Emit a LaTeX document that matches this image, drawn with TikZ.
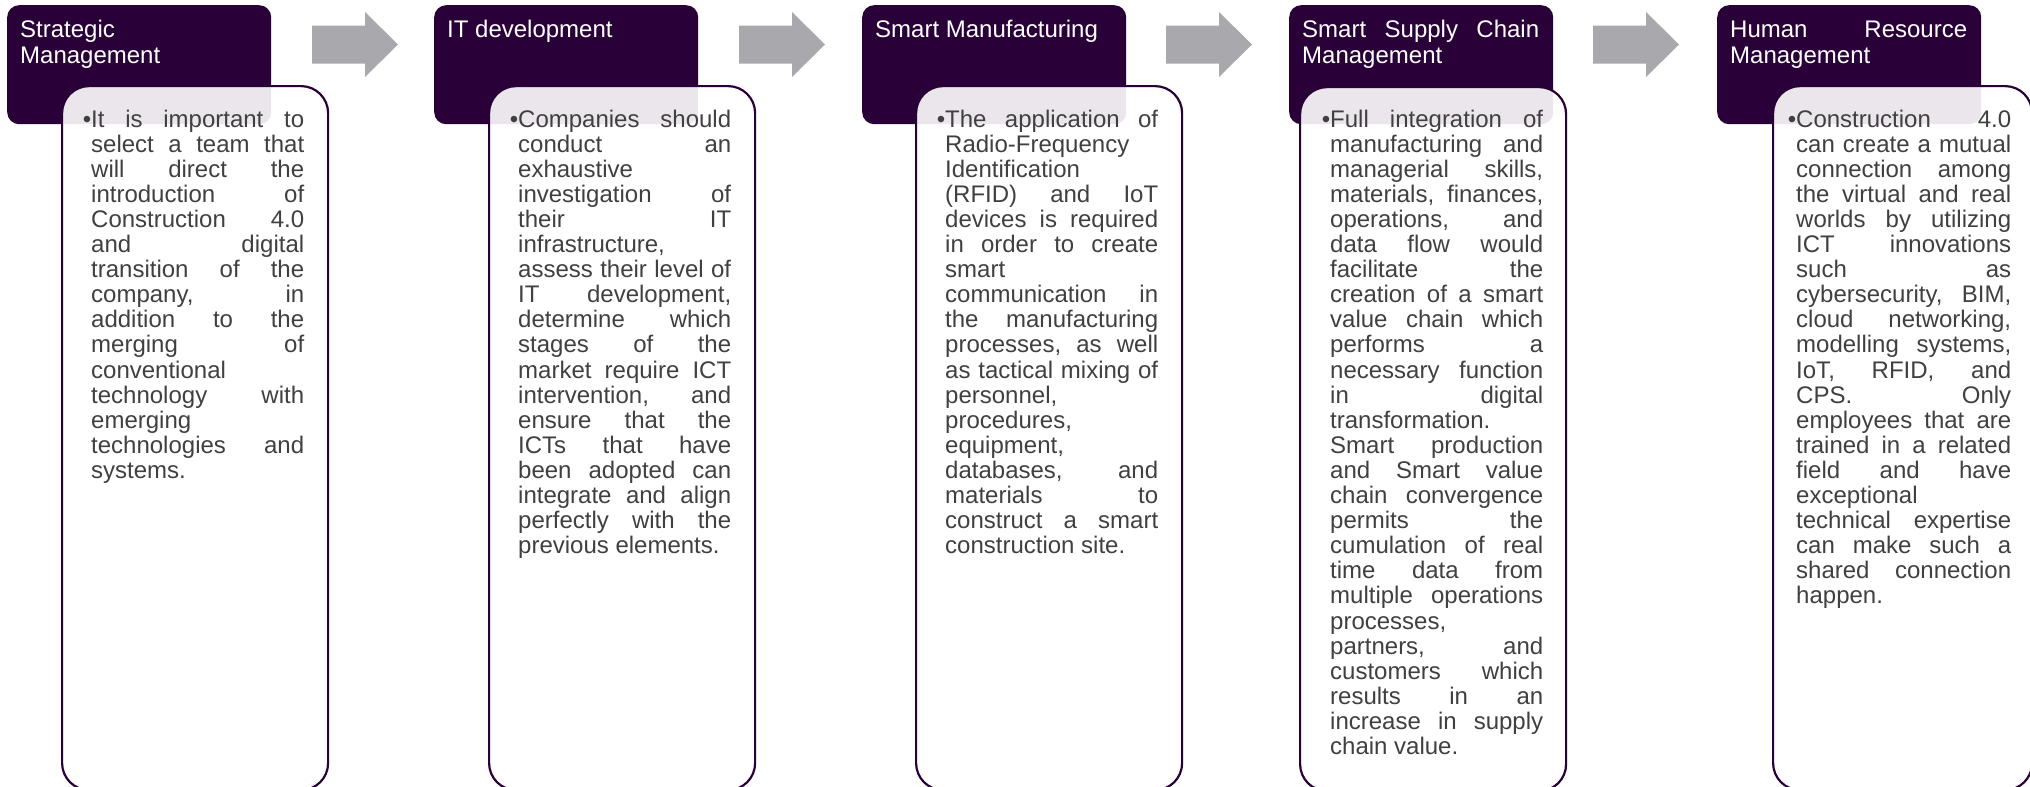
\documentclass[tikz,border=0pt]{standalone}
\usepackage{fontspec}
\setmainfont{Liberation Sans}
\definecolor{hdpurple}{HTML}{2A0038}
\definecolor{arrowgray}{HTML}{A9A8AD}
\definecolor{txtgray}{HTML}{404040}
% one justified line of a card or header: the word gaps stretch to fill the line
\newcommand\jl[1]{\leavevmode\hbox to \hsize{\spaceskip=0.278em plus 1fil\relax #1}\\}
% bullet hanging left of the first line
\newcommand\cardbullet{\leavevmode\llap{\textbullet}}
\frenchspacing
\begin{document}
\begin{tikzpicture}[x=1pt,y=-1pt,
  head/.style={fill=hdpurple, rounded corners=12pt, minimum width=264pt,
    minimum height=119pt, anchor=north west, inner sep=0pt},
  headtext/.style={text=white, anchor=base west, inner sep=0pt,
    text width=237pt, align=flush left, font=\fontsize{24}{26}\selectfont},
  card/.style={draw=hdpurple, line width=2.2pt, fill=white, fill opacity=0.9,
    rounded corners=27pt, minimum width=266pt, minimum height=704pt,
    anchor=north west, inner sep=0pt},
  cardtext/.style={text=txtgray, anchor=base west, inner sep=0pt,
    text width=213pt, align=flush left, font=\fontsize{24}{25.1}\selectfont},
  flow/.style={fill=arrowgray}
]
\path[use as bounding box] (0,0) rectangle (2030,787);
\clip (0,0) rectangle (2030,787);

% block arrows between the stages
\foreach \ax [count=\i] in {312,739,1166,1593}{
  \fill[flow] (\ax,25.5) -- (\ax+53,25.5) -- (\ax+53,12) -- (\ax+86,44.5)
    -- (\ax+53,77) -- (\ax+53,63.5) -- (\ax,63.5) -- cycle;
}

% stage 1
\node[head] (h1) at (7,5) {};
\node[headtext] (h1t) at (20,37) {Strategic\\Management};
\node[card] (c1) at (61,85) {};
\node[cardtext] (c1t) at (91,127) {%
\cardbullet\jl{It is important to}
\jl{select a team that}
\jl{will direct the}
\jl{introduction of}
\jl{Construction 4.0}
\jl{and digital}
\jl{transition of the}
\jl{company, in}
\jl{addition to the}
\jl{merging of}
conventional\\
\jl{technology with}
emerging\\
\jl{technologies and}
systems.};

% stage 2
\node[head] (h2) at (434,5) {};
\node[headtext] (h2t) at (447,37) {IT development};
\node[card] (c2) at (488,85) {};
\node[cardtext] (c2t) at (518,127) {%
\cardbullet\jl{Companies should}
\jl{conduct an}
exhaustive\\
\jl{investigation of}
\jl{their IT}
infrastructure,\\
\jl{assess their level of}
\jl{IT development,}
\jl{determine which}
\jl{stages of the}
\jl{market require ICT}
\jl{intervention, and}
\jl{ensure that the}
\jl{ICTs that have}
\jl{been adopted can}
\jl{integrate and align}
\jl{perfectly with the}
previous elements.};

% stage 3
\node[head] (h3) at (862,5) {};
\node[headtext] (h3t) at (875,37) {Smart Manufacturing};
\node[card] (c3) at (915,85) {};
\node[cardtext] (c3t) at (945,127) {%
\cardbullet\jl{The application of}
Radio-Frequency\\
Identification\\
\jl{(RFID) and IoT}
\jl{devices is required}
\jl{in order to create}
smart\\
\jl{communication in}
\jl{the manufacturing}
\jl{processes, as well}
\jl{as tactical mixing of}
personnel,\\
procedures,\\
equipment,\\
\jl{databases, and}
\jl{materials to}
\jl{construct a smart}
construction site.};

% stage 4
\node[head] (h4) at (1289,5) {};
\node[headtext] (h4t) at (1302,37) {\jl{Smart Supply Chain}Management};
\node[card] (c4) at (1299,86) {};
\node[cardtext] (c4t) at (1330,127) {%
\cardbullet\jl{Full integration of}
\jl{manufacturing and}
\jl{managerial skills,}
\jl{materials, finances,}
\jl{operations, and}
\jl{data flow would}
\jl{facilitate the}
\jl{creation of a smart}
\jl{value chain which}
\jl{performs a}
\jl{necessary function}
\jl{in digital}
transformation.\\
\jl{Smart production}
\jl{and Smart value}
\jl{chain convergence}
\jl{permits the}
\jl{cumulation of real}
\jl{time data from}
\jl{multiple operations}
processes,\\
\jl{partners, and}
\jl{customers which}
\jl{results in an}
\jl{increase in supply}
chain value.};

% stage 5
\node[head] (h5) at (1717,5) {};
\node[headtext] (h5t) at (1730,37) {\jl{Human Resource}Management};
\node[card, minimum width=259pt] (c5) at (1772,85) {};
\node[cardtext, text width=215pt] (c5t) at (1796,127) {%
\cardbullet\jl{Construction 4.0}
\jl{can create a mutual}
\jl{connection among}
\jl{the virtual and real}
\jl{worlds by utilizing}
\jl{ICT innovations}
\jl{such as}
\jl{cybersecurity, BIM,}
\jl{cloud networking,}
\jl{modelling systems,}
\jl{IoT, RFID, and}
\jl{CPS. Only}
\jl{employees that are}
\jl{trained in a related}
\jl{field and have}
exceptional\\
\jl{technical expertise}
\jl{can make such a}
\jl{shared connection}
happen.};
\end{tikzpicture}
\end{document}
